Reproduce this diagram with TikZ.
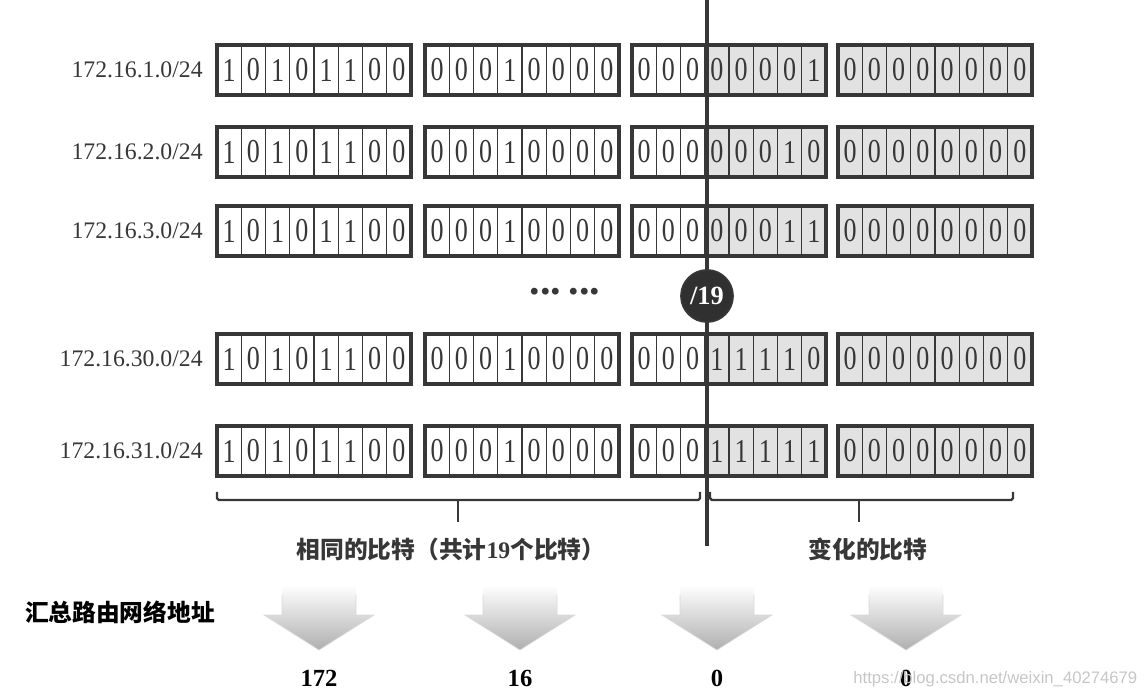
\documentclass[tikz,border=0pt]{standalone}
\usepackage{fontspec}
\setmainfont{Liberation Serif}
\newfontfamily\cjk{Noto Sans CJK SC}
\newfontfamily\wmfont{Liberation Sans}
\usetikzlibrary{positioning}
\definecolor{linegray}{RGB}{55,55,55}
\definecolor{cellgray}{RGB}{226,226,226}
\definecolor{circgray}{RGB}{48,48,48}
\definecolor{arrowgray}{RGB}{175,175,175}

\begin{document}
\begin{tikzpicture}[x=0.02cm,y=-0.02cm,
	netlabel/.style={inner sep=0pt,anchor=east,text=linegray,font=\fontsize{13.5}{16}\selectfont},
	bitcell/.style={draw=linegray,line width=0.6pt,inner sep=0pt,minimum width=0.485cm,minimum height=1cm,text=linegray,font=\fontsize{19}{19}\selectfont},
	octet/.style={draw=linegray,line width=1.8pt,inner sep=0pt,minimum width=3.88cm,minimum height=1cm},
	bracket/.style={draw=linegray,line width=1.4pt,rounded corners=1pt},
	cjklabel/.style={inner sep=0pt,text=linegray,font=\cjk\bfseries\fontsize{13.5}{16}\selectfont},
	numlabel/.style={inner sep=0pt,font=\bfseries\fontsize{14}{16}\selectfont}]
	\useasboundingbox (0,0) rectangle (1144,699);
	% five networks, four octets each
	\foreach \ry/\net/\bits [count=\r] in {70/1/{0,0,0,0,0,0,0,1},152/2/{0,0,0,0,0,0,1,0},231/3/{0,0,0,0,0,0,1,1},359/30/{0,0,0,1,1,1,1,0},451/31/{0,0,0,1,1,1,1,1}}{
		\node[netlabel] (net\r) at (203,\ry) {172.16.\net.0/24};
		\foreach \ox/\oct [count=\o] in {217/{1,0,1,0,1,1,0,0},425/{0,0,0,1,0,0,0,0},632/\bits,838/{0,0,0,0,0,0,0,0}}{
			\edef\cur{\oct}
			\foreach \b [count=\i] in \cur {
				\pgfmathtruncatemacro\sh{(\o==4)||((\o==3)&&(\i>3))}
				\ifnum\sh=1 \def\cf{cellgray}\else\def\cf{white}\fi
				\node[bitcell,fill=\cf] (b\r-\o-\i) at (\ox+\i*24.25-12.125,\ry) {\scalebox{0.78}[1]{\b}};
			}
			\node[octet] (o\r-\o) at (\ox+97,\ry) {};
		}
	}
	\node[inner sep=0pt,text=linegray,font=\bfseries\fontsize{24}{24}\selectfont] (dots) at (565,292) {...\,...};
	% the /19 boundary
	\coordinate (cuttop) at (707,0);
	\coordinate (cutbot) at (707,546);
	\draw[linegray,line width=2.6pt] (cuttop) -- (cutbot);
	\node[circle,fill=circgray,draw=linegray,line width=1pt,minimum size=1.04cm,inner sep=0pt,text=white,font=\bfseries\fontsize{15}{16}\selectfont] (pref) at (707,296) {/19};
	% brackets
	\draw[bracket] (217,492) -- (217,500) -- (700,500) -- (700,492);
	\draw[bracket] (458,500) -- (458,522);
	\draw[bracket] (710,492) -- (710,500) -- (1013,500) -- (1013,492);
	\draw[bracket] (859,500) -- (859,522);
	\node[cjklabel] (same) at (451,549) {相同的比特（共计{\rmfamily\bfseries 19}个比特）};
	\node[cjklabel] (vary) at (868,549) {变化的比特};
	\node[cjklabel,text=black] (summ) at (120,612) {汇总路由网络地址};
	% summary arrows
	\foreach \ax/\num [count=\k] in {319/172,520/16,717/0,906/0}{
		\shade[top color=white,bottom color=arrowgray]
		(\ax-37,585) -- (\ax+37,585) -- (\ax+37,615) -- (\ax+55,615) -- (\ax,650) -- (\ax-55,615) -- (\ax-37,615) -- cycle;
		\draw[gray!30,line width=0.4pt] (\ax+37,595) -- (\ax+37,615) -- (\ax+55,615) -- (\ax,650) -- (\ax-55,615) -- (\ax-37,615) -- (\ax-37,595);
		\node[numlabel] (sum\k) at (\ax,678) {\num};
	}
	\node[inner sep=0pt,anchor=west,text=gray!45,font=\wmfont\fontsize{9.5}{11}\selectfont] (mark) at (853,679) {https://blog.csdn.net/weixin\_40274679};
\end{tikzpicture}
\end{document}
